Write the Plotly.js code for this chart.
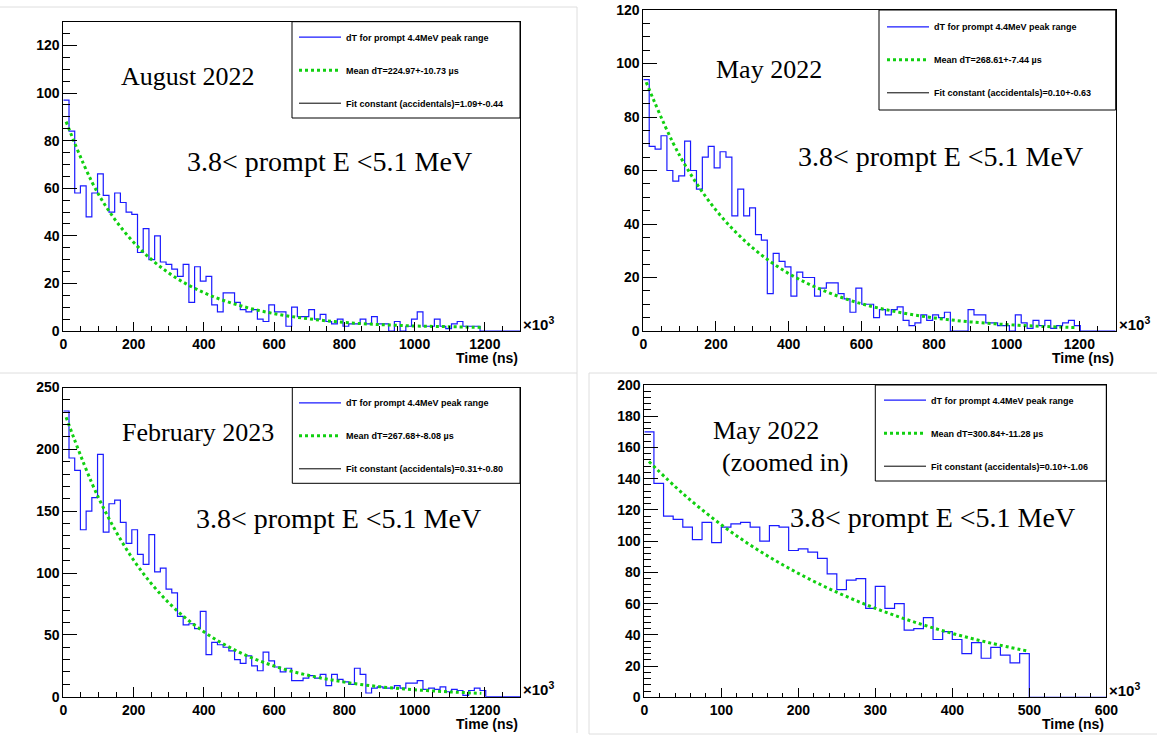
<!DOCTYPE html>
<html><head><meta charset="utf-8">
<script src="https://cdn.plot.ly/plotly-3.0.1.min.js"></script>
<style>html,body{margin:0;padding:0;background:#fff;} #chart{width:1157px;height:735px;}</style>
</head><body><div id="chart"></div>
<script>
// ---------------- DATA ----------------
const histLegendName = 'dT for prompt 4.4MeV peak range';
const rangeLabel = '3.8< prompt E <5.1 MeV';

// August 2022 (bins of 16.25 µs from 0 to 1300)
const aug22BinWidth = 16.25;
const aug22Counts = [97,84,58,61,48,58,66,57,50,58,54,50,49,33,43,30,40,29,28,26,23,28,12,27,21,23,11,8,16,16,12,9,8,9,5,4,11,8,8,2,10,
  6,6,9,5,7,4,3,5,2,3,3,5,3,6,3,3,0,4,0,2,5,8,2,2,5,2,1,3,4,2,2,2,
  0,0,0,0,0,0,0];
const aug22FitT = [8,100,200,300,400,500,600,700,800,900,1000,1100,1190];
const aug22FitY = [88,57.5,37.3,24.4,16.1,10.8,7.3,5.1,3.6,2.7,2.1,1.8,1.5];
const aug22Title = 'August 2022';
const aug22Mean = 'Mean dT=224.97+-10.73 µs';
const aug22Const = 'Fit constant (accidentals)=1.09+-0.44';

// May 2022
const may22BinWidth = 16.25;
const may22Counts = [94,69,68,73,60,56,58,71,60,53,65,69,61,67,65,43,53,43,46,36,34,14,29,26,24,13,22,20,20,13,16,18,18,14,12,7,16,10,10,
  5,8,6,8,9,4,2,3,6,4,6,5,7,0,0,0,8,6,6,3,3,2,2,0,6,3,1,4,2,4,1,2,3,4,2,
  0,0,0,0,0,0];
const may22FitT = [8,100,200,300,400,500,600,700,800,900,1000,1100,1190];
const may22FitY = [93,65.6,45.2,31.2,21.5,14.9,10.2,7.1,4.9,3.4,2.4,1.7,1.3];
const may22Title = 'May 2022';
const may22Mean = 'Mean dT=268.61+-7.44 µs';
const may22Const = 'Fit constant (accidentals)=0.10+-0.63';

// February 2023
const feb23BinWidth = 16.25;
const feb23Counts = [231,193,183,135,150,161,196,133,156,159,141,124,135,115,107,131,101,104,87,84,65,58,59,55,69,34,44,42,40,37,30,27,33,25,21,36,29,24,20,23,13,
  13,15,17,15,18,9,18,14,12,10,23,18,3,7,8,7,7,9,7,11,11,13,6,7,6,8,4,6,5,1,5,7,5,
  0,0,0,0,0,0];
const feb23FitT = [8,100,200,300,400,500,600,700,800,900,1000,1100,1190];
const feb23FitY = [226,161,110.5,76,52.5,36.1,24.8,17.1,11.8,8.1,5.6,3.9,2.7];
const feb23Title = 'February 2023';
const feb23Mean = 'Mean dT=267.68+-8.08 µs';
const feb23Const = 'Fit constant (accidentals)=0.31+-0.80';

// May 2022 zoomed in (bins of 12.5 µs from 0 to 600)
const may22zBinWidth = 12.5;
const may22zCounts = [170,137,116,114,109,101,112,99,109,111,112,109,100,110,109,94,95,93,89,79,69,75,76,57,71,57,60,43,44,51,37,42,37,28,35,25,32,27,22,28,
  0,0,0,0,0,0,0,0];
const may22zFitT = [6,50,100,150,200,250,300,350,400,450,500];
const may22zFitY = [151,130.5,110.5,93.6,79.4,67.3,57,48.3,40.9,34.7,29.4];
const may22zTitle = ['May 2022', '(zoomed in)'];
const may22zMean = 'Mean dT=300.84+-11.28 µs';
const may22zConst = 'Fit constant (accidentals)=0.10+-1.06';

// ---------------- LAYOUT (pixels) ----------------
const W = 1157, H = 735;
const px = x => x / W;
const py = y => 1 - y / H;

const panels = [
  {counts: aug22Counts, bw: aug22BinWidth, fitT: aug22FitT, fitY: aug22FitY, mean: aug22Mean, acc: aug22Const,
   titles: [{t: aug22Title, x: 188, y: 77}], range: {x: 329, y: 162},
   box: [63.3, 21.7, 520, 331], xr: [0, 1300], yr: [0, 130], xd: 200, xm: 50, yd: 20, ym: 5,
   leg: [292, 21.7, 520, 118], legX: 300, legRow: 37.7},
  {counts: may22Counts, bw: may22BinWidth, fitT: may22FitT, fitY: may22FitY, mean: may22Mean, acc: may22Const,
   titles: [{t: may22Title, x: 769, y: 69}], range: {x: 940, y: 157},
   box: [643.3, 10, 1115.7, 331], xr: [0, 1300], yr: [0, 120], xd: 200, xm: 50, yd: 20, ym: 5,
   leg: [879, 10, 1115.7, 110], legX: 888, legRow: 27.3},
  {counts: feb23Counts, bw: feb23BinWidth, fitT: feb23FitT, fitY: feb23FitY, mean: feb23Mean, acc: feb23Const,
   titles: [{t: feb23Title, x: 198, y: 432}], range: {x: 338, y: 518},
   box: [63.3, 387.5, 520, 696.7], xr: [0, 1300], yr: [0, 250], xd: 200, xm: 50, yd: 50, ym: 10,
   leg: [292.3, 387.5, 520, 483.3], legX: 300, legRow: 403.3},
  {counts: may22zCounts, bw: may22zBinWidth, fitT: may22zFitT, fitY: may22zFitY, mean: may22zMean, acc: may22zConst,
   titles: [{t: may22zTitle[0], x: 766, y: 430}, {t: may22zTitle[1], x: 785, y: 462}], range: {x: 932, y: 517},
   box: [644.3, 385, 1106.3, 697.3], xr: [0, 600], yr: [0, 200], xd: 100, xm: 20, yd: 20, ym: 4,
   leg: [875.3, 385, 1106.3, 481], legX: 885, legRow: 400.7}
];

const tickFont = {family: 'Liberation Sans, Arial, sans-serif', size: 14, weight: 'bold', color: '#000'};
const legFont = {family: 'Liberation Sans, Arial, sans-serif', size: 9, weight: 'bold', color: '#000'};
const serifFont = {family: 'Liberation Serif, DejaVu Serif, serif', size: 26, color: '#000'};
const rangeFont = {family: 'Liberation Serif, DejaVu Serif, serif', size: 28, color: '#000'};

const traces = [];
const layout = {
  width: W, height: H, margin: {l: 0, r: 0, t: 0, b: 0},
  paper_bgcolor: '#fff', plot_bgcolor: '#fff', showlegend: true,
  annotations: [], shapes: []
};

panels.forEach((p, k) => {
  const n = k + 1;
  const xa = n === 1 ? 'x' : 'x' + n, ya = n === 1 ? 'y' : 'y' + n;
  const xk = n === 1 ? 'xaxis' : 'xaxis' + n, yk = n === 1 ? 'yaxis' : 'yaxis' + n;
  const lg = n === 1 ? 'legend' : 'legend' + n;
  const yTickLen = 0.03 * (p.box[2] - p.box[0]);
  const xTickLen = 0.03 * (p.box[3] - p.box[1]);

  layout[xk] = {
    domain: [px(p.box[0]), px(p.box[2])], anchor: ya, range: p.xr,
    showgrid: false, zeroline: false, showline: true, linecolor: '#000', linewidth: 1, mirror: true,
    ticks: 'inside', ticklen: xTickLen, tickcolor: '#000', tickwidth: 1, dtick: p.xd, tick0: 0,
    minor: {ticks: 'inside', ticklen: xTickLen / 2, tickcolor: '#000', dtick: p.xm, showgrid: false},
    tickfont: tickFont, fixedrange: true
  };
  layout[yk] = {
    domain: [py(p.box[3]), py(p.box[1])], anchor: xa, range: p.yr,
    showgrid: false, zeroline: false, showline: true, linecolor: '#000', linewidth: 1, mirror: true,
    ticks: 'inside', ticklen: yTickLen, tickcolor: '#000', tickwidth: 1, dtick: p.yd, tick0: 0,
    minor: {ticks: 'inside', ticklen: yTickLen / 2, tickcolor: '#000', dtick: p.ym, showgrid: false},
    tickfont: tickFont, fixedrange: true
  };

  // histogram outline built from the counts and the bin width
  const hx = p.counts.map((c, i) => i * p.bw);
  hx.push(p.counts.length * p.bw);
  const hy = p.counts.slice();
  hy.push(p.counts[p.counts.length - 1]);
  traces.push({type: 'scatter', mode: 'lines', x: hx, y: hy, xaxis: xa, yaxis: ya,
    line: {shape: 'hv', color: '#1a1aff', width: 1.2}, name: histLegendName,
    legend: lg, legendgroup: 'h' + n, hoverinfo: 'skip'});
  traces.push({type: 'scatter', mode: 'lines', x: p.fitT, y: p.fitY, xaxis: xa, yaxis: ya,
    line: {shape: 'spline', color: '#10d010', width: 3, dash: 'dot'}, name: p.mean,
    legend: lg, legendgroup: 'f' + n, hoverinfo: 'skip'});
  traces.push({type: 'scatter', mode: 'lines', x: [null], y: [null], xaxis: xa, yaxis: ya,
    line: {color: '#000', width: 1}, name: p.acc,
    legend: lg, legendgroup: 'c' + n, hoverinfo: 'skip'});

  layout[lg] = {
    x: px(p.legX - 6), y: py(p.legRow - 15), xanchor: 'left', yanchor: 'top',
    bgcolor: 'rgba(0,0,0,0)', borderwidth: 0, font: legFont, itemwidth: 42,
    tracegroupgap: 14, traceorder: 'grouped'
  };
  layout.shapes.push({type: 'rect', xref: 'paper', yref: 'paper',
    x0: px(p.leg[0]), x1: px(p.leg[2]), y0: py(p.leg[3]), y1: py(p.leg[1]),
    line: {color: '#000', width: 1}, fillcolor: '#fff', layer: 'below'});

  p.titles.forEach(t => layout.annotations.push({xref: 'paper', yref: 'paper', x: px(t.x), y: py(t.y),
    xanchor: 'center', yanchor: 'middle', text: t.t, showarrow: false, font: serifFont}));
  layout.annotations.push({xref: 'paper', yref: 'paper', x: px(p.range.x), y: py(p.range.y),
    xanchor: 'center', yanchor: 'middle', text: rangeLabel, showarrow: false, font: rangeFont});
  layout.annotations.push({xref: 'paper', yref: 'paper', x: px(p.box[2] + 1), y: py(p.box[3] - 8),
    xanchor: 'left', yanchor: 'middle', text: '×10<sup>3</sup>', showarrow: false,
    font: {family: 'Liberation Sans, Arial, sans-serif', size: 15, weight: 'bold', color: '#000'}});
  layout.annotations.push({xref: 'paper', yref: 'paper', x: px(p.box[2]), y: py(p.box[3] + 27),
    xanchor: 'right', yanchor: 'middle', text: 'Time (ns)', showarrow: false,
    font: {family: 'Liberation Sans, Arial, sans-serif', size: 14, weight: 'bold', color: '#000'}});
});

// light separators between the four pictures
const sep = (x0, y0, x1, y1) => layout.shapes.push({type: 'line', xref: 'paper', yref: 'paper',
  x0: px(x0), y0: py(y0), x1: px(x1), y1: py(y1), line: {color: '#dedede', width: 1}, layer: 'below'});
sep(0, 7, 577, 7);
sep(577, 7, 577, 733);
sep(0, 373, 577, 373);
sep(589, 373, 1157, 373);
sep(589, 373, 589, 734);
sep(589, 734, 1157, 734);

Plotly.newPlot('chart', traces, layout, {displayModeBar: false, staticPlot: true});
</script>
</body></html>
